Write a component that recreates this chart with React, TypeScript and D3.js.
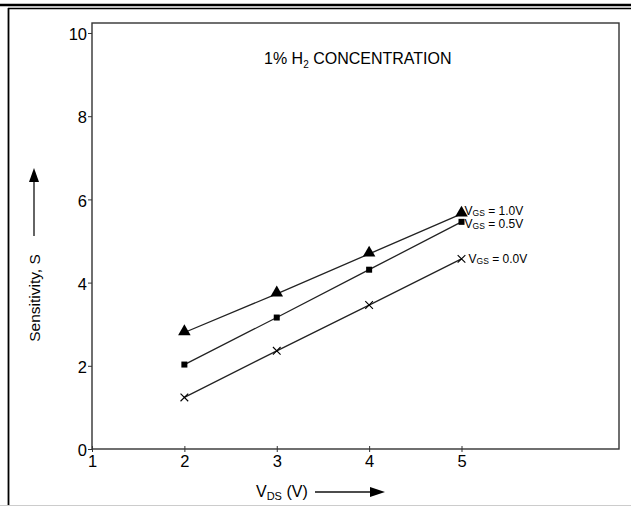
import React, {useRef, useEffect} from 'react';
import * as d3 from 'd3';

// drain voltage steps
const vds = [2, 3, 4, 5];
// sensitivity per gate bias
const sens10 = [2.8, 3.73, 4.69, 5.65];
const sens05 = [2.03, 3.16, 4.31, 5.46];
const sens00 = [1.24, 2.36, 3.46, 4.57];
const seriesLabels = ['1.0V', '0.5V', '0.0V'];
const yTicks = [0, 2, 4, 6, 8, 10];
const xTicks = [1, 2, 3, 4, 5];

function App() {
  const canvas = useRef<HTMLDivElement>(null);

  const width = 631;
  const height = 506;
  const left = 92, right = 619, top = 23, bottom = 449;
  const font = '"Liberation Sans", Arial, sans-serif';

  useEffect(() => {
    const root = d3.select(canvas.current);
    root.selectAll('*').remove();
    const svg = root.append('svg')
      .attr('width', width)
      .attr('height', height)
      .style('position', 'absolute')
      .style('left', 0)
      .style('top', 0)
      .style('font-family', font);

    svg.append('rect').attr('width', width).attr('height', height).attr('fill', '#fff');

    // page frame
    svg.append('line').attr('x1', 0).attr('x2', width).attr('y1', 5).attr('y2', 5)
      .attr('stroke', '#000').attr('stroke-width', 2.5);
    svg.append('line').attr('x1', 8).attr('x2', width).attr('y1', 8.5).attr('y2', 8.5)
      .attr('stroke', '#000').attr('stroke-width', 1.5);
    svg.append('line').attr('x1', 8.5).attr('x2', 8.5).attr('y1', 8).attr('y2', 506)
      .attr('stroke', '#000').attr('stroke-width', 1.8);
    svg.append('line').attr('x1', 0).attr('x2', width).attr('y1', 505.5).attr('y2', 505.5)
      .attr('stroke', '#ccc').attr('stroke-width', 1);

    const x = d3.scaleLinear().domain([1, 6.705]).range([left, right]);
    const y = d3.scaleLinear().domain([0, 10.24]).range([bottom, top]);

    // plot box
    svg.append('rect')
      .attr('x', left).attr('y', top)
      .attr('width', right - left).attr('height', bottom - top)
      .attr('fill', 'none').attr('stroke', '#333').attr('stroke-width', 1.4);

    const yAxis = svg.append('g')
      .attr('transform', `translate(${left},0)`)
      .call(d3.axisLeft(y).tickValues(yTicks).tickSize(4).tickPadding(1).tickFormat(d3.format('d')));
    yAxis.select('.domain').remove();
    yAxis.selectAll('line').attr('stroke', '#333');
    yAxis.selectAll('text').attr('font-size', 16.5).attr('fill', '#000')
      .attr('font-family', font).attr('dy', '0.4em');

    const xAxis = svg.append('g')
      .attr('transform', `translate(0,${bottom})`)
      .call(d3.axisBottom(x).tickValues(xTicks).tickSize(3).tickPadding(3).tickFormat(d3.format('d')));
    xAxis.select('.domain').remove();
    xAxis.selectAll('line').attr('stroke', '#333').attr('y1', -3);
    xAxis.selectAll('text').attr('font-size', 16.5).attr('fill', '#000')
      .attr('font-family', font);

    const line = d3.line<number>()
      .x((d, i) => x(vds[i]))
      .y(d => y(d));

    const all = [sens10, sens05, sens00];
    all.forEach(s => {
      svg.append('path')
        .attr('d', line(s))
        .attr('fill', 'none')
        .attr('stroke', '#222')
        .attr('stroke-width', 1.3);
    });

    // markers
    const tri = d3.symbol().type(d3.symbolTriangle).size(68);
    svg.selectAll('.tri').data(sens10).enter().append('path')
      .attr('d', tri)
      .attr('transform', (d, i) => `translate(${x(vds[i])},${y(d) - 1})`)
      .attr('fill', '#000');
    svg.selectAll('.sq').data(sens05).enter().append('rect')
      .attr('x', (d, i) => x(vds[i]) - 3)
      .attr('y', d => y(d) - 3)
      .attr('width', 6).attr('height', 6)
      .attr('fill', '#000');
    const cross = d3.symbol().type(d3.symbolX).size(40);
    svg.selectAll('.cr').data(sens00).enter().append('path')
      .attr('d', cross)
      .attr('transform', (d, i) => `translate(${x(vds[i])},${y(d)})`)
      .attr('fill', 'none').attr('stroke', '#000').attr('stroke-width', 1.1);

    // series labels
    const labelPos = [
      {dx: 3, dy: 1},
      {dx: 3, dy: 6.5},
      {dx: 7, dy: 4}
    ];
    all.forEach((s, k) => {
      const t = svg.append('text')
        .attr('x', x(vds[3]) + labelPos[k].dx)
        .attr('y', y(s[3]) + labelPos[k].dy)
        .attr('font-size', 12)
        .attr('fill', '#000');
      t.append('tspan').text('V');
      t.append('tspan').attr('font-size', 8.5).attr('dy', 1).text('GS');
      t.append('tspan').attr('dy', -1).text(` = ${seriesLabels[k]}`);
    });

    // title
    const title = svg.append('text')
      .attr('x', 264).attr('y', 64)
      .attr('font-size', 16)
      .attr('fill', '#000');
    title.append('tspan').text('1% H');
    title.append('tspan').attr('font-size', 10).attr('dy', 4).text('2');
    title.append('tspan').attr('dy', -4).text(' CONCENTRATION');

    // y label with arrow
    svg.append('text')
      .attr('transform', 'translate(40,298) rotate(-90)')
      .attr('text-anchor', 'middle')
      .attr('font-size', 15.5)
      .attr('fill', '#000')
      .text('Sensitivity, S');
    svg.append('line').attr('x1', 34).attr('x2', 34).attr('y1', 236).attr('y2', 180)
      .attr('stroke', '#111').attr('stroke-width', 1.3);
    svg.append('path').attr('d', 'M34,168 L29,182 L39,182 Z').attr('fill', '#000');

    // x label with arrow
    const xl = svg.append('text')
      .attr('x', 256).attr('y', 497)
      .attr('font-size', 16)
      .attr('fill', '#000');
    xl.append('tspan').text('V');
    xl.append('tspan').attr('font-size', 11).attr('dy', 3).text('DS');
    xl.append('tspan').attr('dy', -3).text(' (V)');
    svg.append('line').attr('x1', 315).attr('x2', 373).attr('y1', 492).attr('y2', 492)
      .attr('stroke', '#111').attr('stroke-width', 1.3);
    svg.append('path').attr('d', 'M385,492 L370,487 L370,497 Z').attr('fill', '#000');
  });

  return <div className="d3-canvas" ref={canvas}></div>;
}

export default App;
